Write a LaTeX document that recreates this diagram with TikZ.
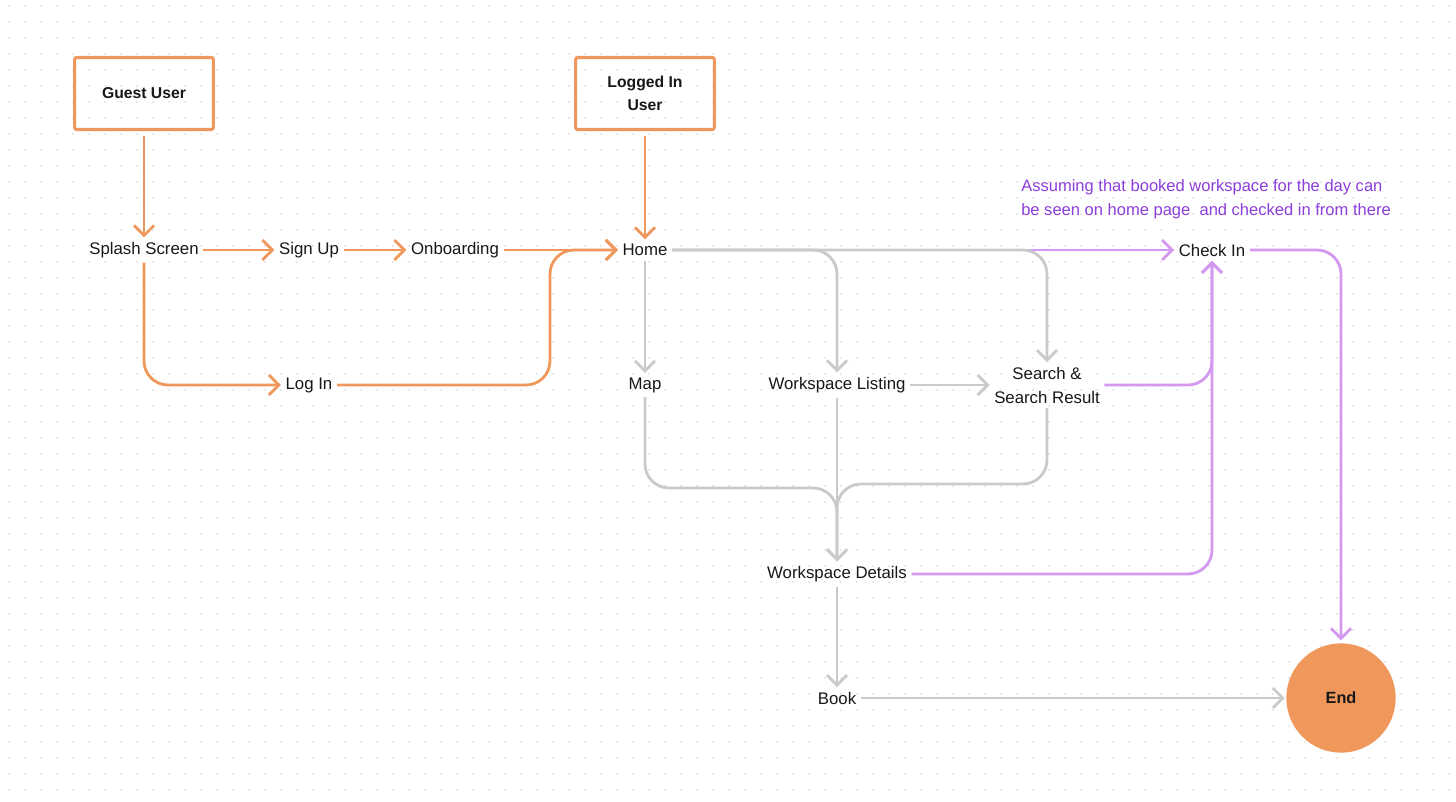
\documentclass[tikz,border=0pt]{standalone}
\usepackage{fontspec}
\setmainfont{Liberation Sans}
\definecolor{FlowOrange}{RGB}{240,152,92}
\definecolor{FlowGray}{RGB}{202,202,202}
\definecolor{FlowPurple}{RGB}{212,152,240}
\definecolor{NotePurple}{RGB}{140,62,218}
\definecolor{DotGray}{RGB}{212,212,212}
\definecolor{InkBlack}{RGB}{24,24,24}
\usetikzlibrary{positioning,arrows.meta,calc}
\tikzset{>={Straight Barb[length=7.5pt,width=15pt]}}
\tikzset{flownodes/.style={text=InkBlack,font=\fontsize{12.6}{18}\selectfont,align=center}}
\tikzset{userbox/.style={draw=FlowOrange,line width=2.3pt,rounded corners=1.5pt,minimum width=104pt,minimum height=54pt,text=InkBlack,font=\fontsize{11.8}{17}\bfseries\selectfont,align=center}}
\tikzset{endnode/.style={circle,fill=FlowOrange,minimum size=82pt,text=InkBlack,font=\fontsize{12.2}{14}\bfseries\selectfont}}
\tikzset{notenode/.style={text=NotePurple,font=\fontsize{12.4}{18}\selectfont,align=left,anchor=west,inner sep=0pt}}
\tikzset{orangeedges/.style={draw=FlowOrange,line width=2.1pt,rounded corners=18pt}}
\tikzset{grayedges/.style={draw=FlowGray,line width=2.1pt,rounded corners=18pt}}
\tikzset{purpleedges/.style={draw=FlowPurple,line width=2.1pt,rounded corners=18pt}}

\begin{document}
\begin{tikzpicture}[x=0.75pt,y=-0.75pt]

    \fill[white] (0,0) rectangle (1456,802);
    \useasboundingbox (0,0) rectangle (1456,802);
    % dotted canvas
    \foreach \i in {0,...,90} {
        \foreach \j in {0,...,49} {
            \fill[DotGray] (9+16*\i,6+16*\j) circle (0.6pt);
        }
    }

    % entry points
    \node[userbox] (guest)  at (144,93.5) {Guest User};
    \node[userbox] (logged) at (645,93.5) {Logged In\\User};

    % screens
    \node[flownodes] (splash)  at (144,250)  {Splash Screen};
    \node[flownodes] (signup)  at (309,250)  {Sign Up};
    \node[flownodes] (onboard) at (455,250)  {Onboarding};
    \node[flownodes] (home)    at (645,250)  {Home};
    \node[flownodes] (login)   at (309,385)  {Log In};
    \node[flownodes] (map)     at (645,385)  {Map};
    \node[flownodes] (wlist)   at (837,385)  {Workspace Listing};
    \node[flownodes] (search)  at (1047,385) {Search \&\\Search Result};
    \node[flownodes] (checkin) at (1212,250) {Check In};
    \node[flownodes] (details) at (837,574)  {Workspace Details};
    \node[flownodes] (book)    at (837,698)  {Book};
    \node[endnode]   (end)     at (1341,698) {End};

    \node[notenode] (note) at (1021,199) {Assuming that booked workspace for the day can\\be seen on home page\ \ and checked in from there};

    \coordinate (jog)    at (550,385);
    \coordinate (mergeL) at (837,488);
    \coordinate (mergeR) at (837,484);

    % orange: sign up / log in
    \draw[orangeedges,->,shorten <=4pt] (guest) -- (splash);
    \draw[orangeedges,->,shorten <=4pt] (logged) -- (home);
    \foreach \i/\j in {splash/signup, signup/onboard, onboard/home} {
        \draw[orangeedges,->] (\i) -- (\j);
    }
    \draw[orangeedges,->] (splash.south) |- (login.west);
    \draw[orangeedges,->] (login.east) -- (jog) |- (home.west);

    % purple: check in
    \draw[purpleedges,->] (home.east) -- (checkin.west);
    \draw[purpleedges,->] (search.east) -| (checkin.south);
    \draw[purpleedges,->] (details.east) -| (checkin.south);
    \draw[purpleedges,->,shorten >=2pt] (checkin.east) -| (end.north);

    % gray: browsing
    \draw[grayedges,->] (home.south) -- (map.north);
    \draw[grayedges,->] (home.east) -| (wlist.north);
    \draw[grayedges,->] (home.east) -| (search.north);
    \draw[grayedges,->] (wlist.east) -- (search.west);
    \draw[grayedges,->] (wlist.south) -- (details.north);
    \draw[grayedges,->] (map.south) |- (mergeL) -- (details.north);
    \draw[grayedges,->] (search.south) |- (mergeR) -- (details.north);
    \draw[grayedges,->] (details.south) -- (book.north);
    \draw[grayedges,->,shorten >=1pt] (book.east) -- (end.west);

\end{tikzpicture}
\end{document}
